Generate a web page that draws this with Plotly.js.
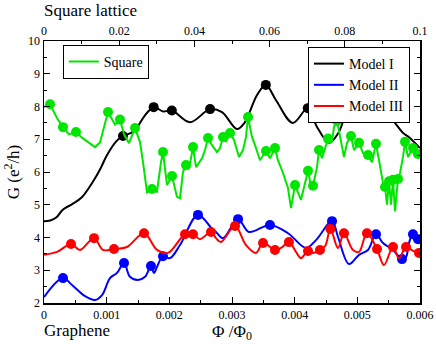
<!DOCTYPE html>
<html>
<head>
<meta charset="utf-8">
<script src="https://cdn.plot.ly/plotly-3.0.1.min.js"></script>
<style>
  html, body { margin: 0; padding: 0; background: #fff; }
  #graph { width: 436px; height: 344px; }
</style>
</head>
<body>
<div id="graph"></div>
<script>
// Model I (black), graphene flux axis
var phiModel1 = [0, 0.0001, 0.0002, 0.0003, 0.00045, 0.0006, 0.00078, 0.0009, 0.001, 0.00116,
  0.00126, 0.0014, 0.00148, 0.0016, 0.00175, 0.0019, 0.00204, 0.00233, 0.00265, 0.00284,
  0.00308, 0.0032, 0.0034, 0.00354, 0.0037, 0.00397, 0.00421, 0.00435, 0.00455, 0.0047, 0.0049,
  0.00517, 0.00544, 0.0056, 0.00573, 0.00582, 0.006];
var gModel1 = [4.5, 4.52, 4.62, 4.85, 5.02, 5.22, 5.7, 6.1, 6.5, 6.95,
  7.1, 7.2, 7.34, 7.7, 7.98, 7.85, 7.88, 7.52, 7.92, 7.83,
  7.31, 7.5, 8.35, 8.66, 8.2, 7.5, 7.95, 7.4, 6.89, 7.2, 8.04,
  7.6, 7.86, 7.5, 7.19, 7.07, 6.73];
var phiModel1Dots = [0.00126, 0.00175, 0.00204, 0.00265, 0.00354, 0.00421, 0.0049, 0.00544];
var gModel1Dots = [7.1, 7.98, 7.88, 7.92, 8.66, 7.95, 8.04, 7.86];

// Model II (blue)
var phiModel2 = [0, 0.000303, 0.000447, 0.000654, 0.000814, 0.000926, 0.001053, 0.001165, 0.001277, 0.001372,
  0.0015, 0.001612, 0.001707, 0.001755, 0.001803, 0.001899, 0.002011, 0.00217, 0.002457, 0.002697,
  0.002745, 0.002856, 0.003096, 0.003271, 0.003606, 0.003894, 0.004181, 0.00434, 0.004596, 0.004691,
  0.004867, 0.005027, 0.00517, 0.005298, 0.005409, 0.005569, 0.005713, 0.005777, 0.005824, 0.005888, 0.005968];
var gModel2 = [2.18, 2.76, 2.55, 2.21, 2.09, 2.24, 2.76, 2.92, 3.22, 2.8,
  2.7, 2.8, 3.13, 2.92, 3.1, 3.43, 3.37, 3.77, 4.69, 4.23,
  4.17, 3.98, 4.56, 4.17, 4.38, 4.13, 3.68, 3.92, 4.5, 4.02,
  3.19, 3.47, 3.62, 4.1, 3.83, 3.62, 3.34, 3.4, 3.83, 4.1, 3.95];
var phiModel2Dots = [0.000303, 0.001277, 0.001707, 0.001899, 0.002457, 0.003096, 0.003606, 0.004596, 0.005298, 0.005713, 0.005888, 0.005968];
var gModel2Dots = [2.76, 3.22, 3.13, 3.43, 4.69, 4.56, 4.38, 4.5, 4.1, 3.34, 4.1, 3.95];

// Model III (red)
var phiModel3 = [0, 0.000207, 0.000431, 0.000574, 0.000798, 0.000941, 0.001117, 0.001324, 0.001596, 0.001803,
  0.001979, 0.00225, 0.002378, 0.002489, 0.002665, 0.002745, 0.002824, 0.003048, 0.003223, 0.003383,
  0.003495, 0.003686, 0.003782, 0.003909, 0.004021, 0.004101, 0.004213, 0.004293, 0.004404, 0.00449,
  0.00457, 0.004691, 0.004787, 0.004931, 0.005027, 0.005154, 0.005314, 0.005425, 0.005569, 0.005665,
  0.005777, 0.005888, 0.005984];
var gModel3 = [3.47, 3.56, 3.8, 3.62, 3.98, 3.62, 3.65, 3.71, 4.13, 3.62,
  3.53, 4.1, 4.1, 3.95, 4.17, 3.98, 3.86, 4.35, 3.77, 3.53,
  3.83, 3.62, 3.68, 3.86, 3.56, 3.37, 3.59, 3.53, 3.62, 3.75,
  4.26, 3.68, 4.13, 3.62, 3.56, 4.13, 3.65, 3.16, 3.71, 3.37,
  3.71, 3.59, 3.53];
var phiModel3Dots = [0.000431, 0.000798, 0.001117, 0.001596, 0.00225, 0.002378, 0.002665, 0.003048, 0.003495, 0.003686,
  0.003909, 0.004213, 0.004404, 0.00457, 0.004787, 0.005154, 0.005314, 0.005569, 0.005777, 0.005984];
var gModel3Dots = [3.8, 3.98, 3.65, 4.13, 4.1, 4.1, 4.17, 4.35, 3.83, 3.62,
  3.86, 3.59, 3.62, 4.26, 4.13, 4.13, 3.65, 3.71, 3.71, 3.53];

// Square lattice (green), top flux axis
var phiSquare = [0, 0.0016, 0.00346, 0.00505, 0.00665, 0.00851, 0.01011, 0.0117, 0.01356, 0.01489,
  0.01622, 0.01702, 0.01888, 0.02021, 0.02128, 0.02261, 0.0242, 0.02553, 0.02633, 0.02739,
  0.02872, 0.03005, 0.03112, 0.03165, 0.03271, 0.03404, 0.03537, 0.03617, 0.03697, 0.03777,
  0.03856, 0.03963, 0.04043, 0.04202, 0.04282, 0.04362, 0.04468, 0.04601, 0.04681, 0.04761,
  0.0484, 0.04947, 0.05053, 0.05186, 0.05293, 0.05372, 0.05426, 0.05532, 0.05612, 0.05745,
  0.05904, 0.06011, 0.06144, 0.06223, 0.06356, 0.06489, 0.06569, 0.06676, 0.06835, 0.07021,
  0.07101, 0.07154, 0.07261, 0.07314, 0.07394, 0.07473, 0.07553, 0.0766, 0.07713, 0.07793,
  0.07872, 0.07979, 0.08059, 0.08165, 0.08245, 0.08378, 0.08484, 0.08617, 0.08723, 0.0883,
  0.0891, 0.09016, 0.0907, 0.09122, 0.09176, 0.09229, 0.09282, 0.09335, 0.09415, 0.09468,
  0.09548, 0.09601, 0.09681, 0.09814, 0.09867, 0.09947, 0.1];
var gSquare = [7.98, 8.07, 7.65, 7.37, 7.15, 7.22, 7.05, 6.92, 6.76, 6.9,
  7.5, 7.83, 7.45, 7.6, 7.15, 6.88, 7.34, 6.92, 6.3, 5.38,
  5.48, 5.4, 6.3, 6.61, 5.6, 5.88, 5.24, 5.2, 6.0, 6.21,
  6.09, 6.76, 6.15, 6.42, 6.67, 7.04, 6.82, 6.61, 6.73, 7.07,
  6.92, 7.19, 6.98, 6.46, 6.67, 7.07, 7.68, 7.07, 6.82, 6.36,
  6.64, 6.42, 6.73, 6.36, 5.97, 5.51, 4.9, 5.6, 5.15, 6.04,
  5.55, 5.58, 6.15, 6.67, 6.42, 6.76, 7.02, 6.92, 7.38, 7.56,
  7.07, 6.46, 6.89, 7.1, 6.67, 6.89, 6.58, 6.52, 6.3, 6.86,
  6.36, 5.66, 5.54, 5.0, 5.72, 5.0, 5.76, 4.8, 5.79, 5.97,
  6.46, 6.92, 6.46, 6.73, 6.46, 6.55, 6.61];
var phiSquareDots = [0.0016, 0.00505, 0.00851, 0.01702, 0.02021, 0.0242, 0.02872, 0.03165, 0.03404, 0.03777,
  0.03963, 0.04362, 0.04761, 0.04947, 0.05426, 0.05904, 0.06144, 0.06676, 0.07021, 0.07154,
  0.07314, 0.07553, 0.07793, 0.08165, 0.08378, 0.08617, 0.0883, 0.0907, 0.09176, 0.09282,
  0.09415, 0.09601, 0.09814, 0.09947];
var gSquareDots = [8.07, 7.37, 7.22, 7.83, 7.6, 7.34, 5.48, 6.61, 5.88, 6.21,
  6.76, 7.04, 7.07, 7.19, 7.68, 6.64, 6.73, 5.6, 6.04, 5.58,
  6.67, 7.02, 7.56, 7.1, 6.89, 6.52, 6.86, 5.54, 5.72, 5.76,
  5.79, 6.92, 6.73, 6.55];

var serif = '"Liberation Serif", "Times New Roman", serif';

function lineTrace(x, y, color, name, axis, legend, shape) {
    return {
        x: x, y: y, xaxis: axis, type: 'scatter', mode: 'lines', name: name,
        legend: legend,
        line: {color: color, width: 2, shape: shape, smoothing: 1}
    };
}

function dotTrace(x, y, color, axis) {
    return {
        x: x, y: y, xaxis: axis, type: 'scatter', mode: 'markers', showlegend: false,
        marker: {color: color, size: 10}
    };
}

function drawGraph() {
    var green = '#00e600';
    var data = [
        lineTrace(phiSquare, gSquare, green, 'Square', 'x2', 'legend2', 'linear'),
        dotTrace(phiSquareDots, gSquareDots, green, 'x2'),
        lineTrace(phiModel1, gModel1, '#000000', 'Model I', 'x', 'legend', 'spline'),
        dotTrace(phiModel1Dots, gModel1Dots, '#000000', 'x'),
        lineTrace(phiModel2, gModel2, '#0000ff', 'Model II', 'x', 'legend', 'spline'),
        dotTrace(phiModel2Dots, gModel2Dots, '#0000ff', 'x'),
        lineTrace(phiModel3, gModel3, '#ff0000', 'Model III', 'x', 'legend', 'spline'),
        dotTrace(phiModel3Dots, gModel3Dots, '#ff0000', 'x')
    ];

    var axisCommon = {
        showgrid: false, zeroline: false, showline: true, linecolor: '#000', linewidth: 1.5,
        ticks: 'inside', ticklen: 6, tickwidth: 1, tickcolor: '#000',
        tickfont: {family: serif, size: 12, color: '#000'}
    };

    var layout = {
        width: 436, height: 344,
        margin: {l: 44, r: 16, t: 41, b: 41},
        paper_bgcolor: '#fff', plot_bgcolor: '#fff',
        font: {family: serif, color: '#000'},
        xaxis: Object.assign({}, axisCommon, {
            range: [0, 0.006], dtick: 0.001, tick0: 0,
            minor: {dtick: 0.0005, ticks: 'inside', ticklen: 3, tickcolor: '#000'},
            title: {text: 'Φ /Φ<sub>0</sub>', font: {family: serif, size: 17}, standoff: 2}
        }),
        xaxis2: Object.assign({}, axisCommon, {
            overlaying: 'x', side: 'top', range: [0, 0.1], dtick: 0.02, tick0: 0,
            minor: {dtick: 0.01, ticks: 'inside', ticklen: 3, tickcolor: '#000'}
        }),
        yaxis: Object.assign({}, axisCommon, {
            range: [2, 10], dtick: 1, mirror: 'ticks',
            minor: {dtick: 0.5, ticks: 'inside', ticklen: 3, tickcolor: '#000'},
            title: {text: 'G (e<sup>2</sup>/h)', font: {family: serif, size: 17}, standoff: 4}
        }),
        legend: {
            x: 0.702, y: 0.977, xanchor: 'left', yanchor: 'top',
            bgcolor: '#fff', bordercolor: '#000', borderwidth: 1,
            font: {family: serif, size: 14}, itemwidth: 30
        },
        legend2: {
            x: 0.05, y: 0.985, xanchor: 'left', yanchor: 'top',
            bgcolor: '#fff', bordercolor: '#000', borderwidth: 1,
            font: {family: serif, size: 14}, itemwidth: 30
        },
        annotations: [
            {text: 'Square lattice', xref: 'paper', yref: 'paper', x: -0.005, y: 1.115,
             xanchor: 'left', yanchor: 'middle', showarrow: false, font: {family: serif, size: 17}},
            {text: 'Graphene', xref: 'paper', yref: 'paper', x: -0.005, y: -0.105,
             xanchor: 'left', yanchor: 'middle', showarrow: false, font: {family: serif, size: 17}}
        ]
    };

    Plotly.newPlot('graph', data, layout, {displayModeBar: false, staticPlot: true});
}

drawGraph();
</script>
</body>
</html>
